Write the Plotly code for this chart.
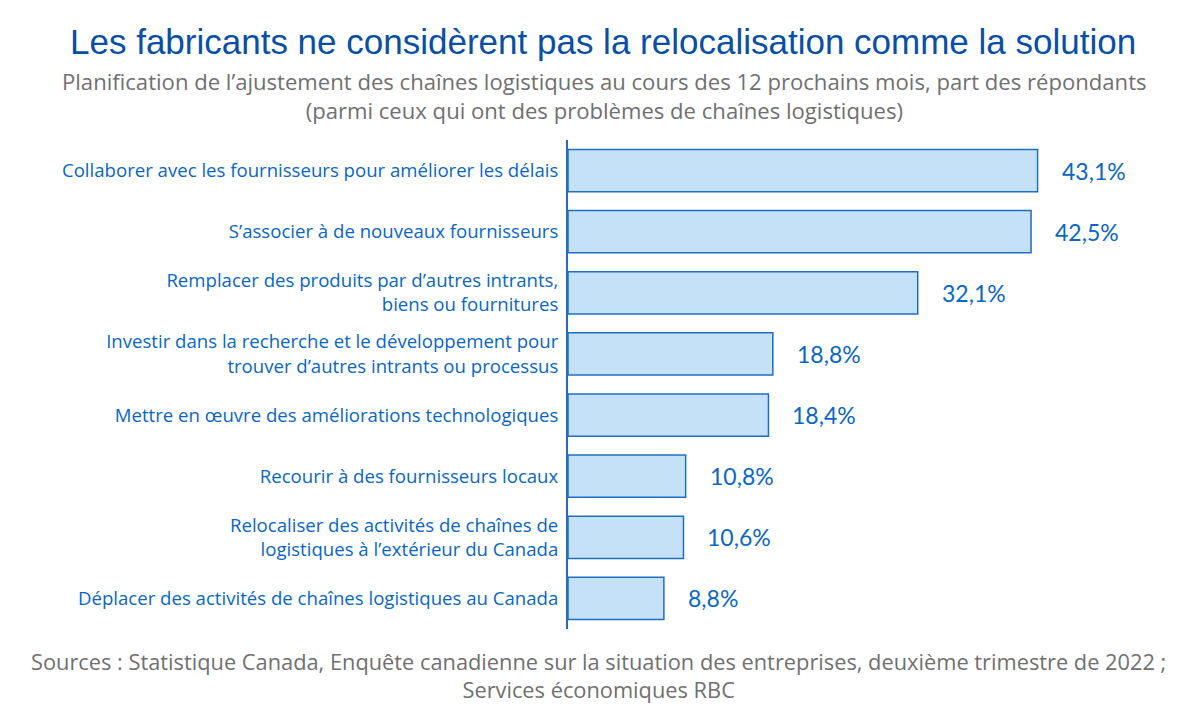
import plotly.graph_objects as go

categories = [
    "Collaborer avec les fournisseurs pour améliorer les délais",
    "S’associer à de nouveaux fournisseurs",
    "Remplacer des produits par d’autres intrants,<br>biens ou fournitures",
    "Investir dans la recherche et le développement pour<br>trouver d’autres intrants ou processus",
    "Mettre en œuvre des améliorations technologiques",
    "Recourir à des fournisseurs locaux",
    "Relocaliser des activités de chaînes de<br>logistiques à l’extérieur du Canada",
    "Déplacer des activités de chaînes logistiques au Canada",
]
values = [43.1, 42.5, 32.1, 18.8, 18.4, 10.8, 10.6, 8.8]
value_labels = ["43,1%", "42,5%", "32,1%", "18,8%", "18,4%", "10,8%", "10,6%", "8,8%"]

title = "Les fabricants ne considèrent pas la relocalisation comme la solution"
subtitle = ("Planification de l’ajustement des chaînes logistiques au cours des 12 prochains mois, part des répondants"
            "<br>(parmi ceux qui ont des problèmes de chaînes logistiques)")
source = ("Sources : Statistique Canada, Enquête canadienne sur la situation des entreprises, deuxième trimestre de 2022 ;"
          "<br>Services économiques RBC")

OFF = 8  # page offset of the figure
W, H = 1192, 699
L, R, T, B = 568 - OFF, 60, 140 - OFF, 78
blue = "#0A66C2"
gray = "#707070"

fig = go.Figure()
fig.add_trace(go.Bar(
    x=values, y=categories, orientation="h",
    marker=dict(color="#C5E1F8", line=dict(color="#1E6FC0", width=1.5)),
    width=0.69, hoverinfo="skip",
))
for v, lab, c in zip(values, value_labels, categories):
    fig.add_annotation(x=v, y=c, text=lab, showarrow=False, xanchor="left",
                       xshift=22, font=dict(family="Lato", size=23, color=blue))

def paper_x(px):
    return (px - OFF - L) / (W - L - R)

def paper_y(py):
    return (H - B - (py - OFF)) / (H - T - B)

fig.add_annotation(x=paper_x(603), y=paper_y(42), xref="paper", yref="paper",
                   xanchor="center", yanchor="middle", showarrow=False, text=title,
                   font=dict(family="Liberation Sans, Arial", size=35, color="#0A4FA6"))
fig.add_annotation(x=paper_x(604), y=paper_y(96), xref="paper", yref="paper",
                   xanchor="center", yanchor="middle", showarrow=False, text=subtitle,
                   font=dict(family="Open Sans", size=22.1, color=gray))
fig.add_annotation(x=paper_x(598), y=paper_y(675), xref="paper", yref="paper",
                   xanchor="center", yanchor="middle", showarrow=False, text=source,
                   font=dict(family="Open Sans", size=21.8, color=gray))

fig.update_layout(
    width=W, height=H,
    margin=dict(l=L, r=R, t=T, b=B),
    plot_bgcolor="white", paper_bgcolor="white",
    showlegend=False,
    xaxis=dict(range=[0, 52.5], visible=False, automargin=False),
    yaxis=dict(autorange=False, range=[7.5, -0.5], showline=True, linecolor="#1E6FC0", linewidth=2,
               ticks="", ticklabelstandoff=4, showgrid=False, automargin=False,
               tickfont=dict(family="Open Sans", size=18.6, color=blue)),
)
fig.write_html("out.html")
